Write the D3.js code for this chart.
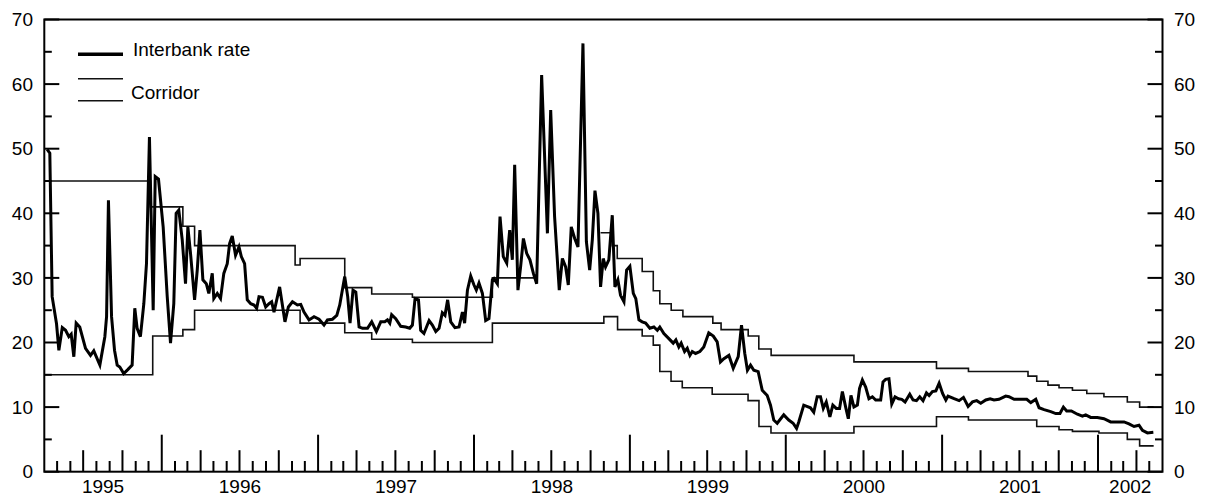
<!DOCTYPE html>
<html>
<head>
<meta charset="utf-8">
<script src="https://cdn.jsdelivr.net/npm/d3@7"></script>
<style>
  html, body { margin: 0; padding: 0; background: #fff; }
  svg { display: block; }
  text { font-family: "Liberation Sans", Arial, Helvetica, sans-serif; fill: #000; }
</style>
</head>
<body>
<svg id="chart" width="1209" height="498"></svg>
<script>
// Interbank overnight rate (per cent), dates as decimal years
const interbank = [
  [1995.265,49.9],[1995.282,49.3],[1995.297,27.1],[1995.325,22.9],[1995.340,18.8],[1995.362,22.3],
  [1995.383,21.9],[1995.404,20.9],[1995.419,21.3],[1995.436,17.8],[1995.451,23.0],[1995.474,22.4],
  [1995.511,19.1],[1995.543,18.0],[1995.564,18.7],[1995.603,16.5],[1995.635,20.9],[1995.646,24.0],
  [1995.658,42.0],[1995.678,24.0],[1995.697,18.8],[1995.714,16.5],[1995.731,16.2],[1995.756,15.2],
  [1995.782,15.8],[1995.810,16.5],[1995.827,25.3],[1995.842,22.2],[1995.863,20.9],[1995.885,26.0],
  [1995.902,32.2],[1995.921,51.8],[1995.945,25.0],[1995.958,45.7],[1995.979,45.3],[1996.009,37.9],
  [1996.035,27.1],[1996.056,19.9],[1996.077,26.0],[1996.092,40.0],[1996.109,40.5],[1996.131,35.9],
  [1996.152,29.1],[1996.167,37.9],[1996.184,33.8],[1996.210,26.6],[1996.227,31.2],[1996.244,37.4],
  [1996.263,29.7],[1996.285,29.1],[1996.301,27.6],[1996.323,30.7],[1996.333,26.8],[1996.355,27.6],
  [1996.376,26.8],[1996.397,30.7],[1996.419,32.2],[1996.434,35.3],[1996.451,36.5],[1996.472,33.5],
  [1996.494,34.8],[1996.509,33.3],[1996.530,32.2],[1996.547,26.6],[1996.569,26.0],[1996.590,25.8],
  [1996.607,25.3],[1996.622,27.1],[1996.644,27.0],[1996.665,25.5],[1996.686,26.0],[1996.703,26.3],
  [1996.718,24.7],[1996.754,28.6],[1996.788,23.2],[1996.810,25.5],[1996.836,26.3],[1996.868,25.8],
  [1996.889,25.9],[1996.910,24.7],[1996.942,23.5],[1996.974,24.0],[1997.006,23.6],[1997.038,22.7],
  [1997.060,23.5],[1997.092,23.6],[1997.120,24.2],[1997.139,25.8],[1997.171,30.2],[1997.190,27.1],
  [1997.205,23.0],[1997.224,28.1],[1997.242,27.8],[1997.263,22.4],[1997.285,22.2],[1997.317,22.2],
  [1997.344,23.2],[1997.374,21.7],[1997.402,23.2],[1997.428,23.2],[1997.445,23.5],[1997.460,23.0],
  [1997.472,24.3],[1997.498,23.7],[1997.530,22.5],[1997.562,22.4],[1997.588,22.2],[1997.605,22.7],
  [1997.622,26.8],[1997.644,26.6],[1997.658,21.9],[1997.679,21.4],[1997.712,23.4],[1997.733,22.7],
  [1997.755,21.7],[1997.776,22.2],[1997.797,24.6],[1997.814,24.2],[1997.831,26.6],[1997.851,23.2],
  [1997.878,22.3],[1997.904,22.4],[1997.926,24.7],[1997.940,23.0],[1997.958,28.1],[1997.979,30.3],
  [1998.000,28.9],[1998.015,28.1],[1998.032,29.2],[1998.054,27.6],[1998.075,23.4],[1998.096,23.7],
  [1998.118,29.7],[1998.128,29.9],[1998.150,29.1],[1998.167,39.5],[1998.188,33.3],[1998.210,32.3],
  [1998.229,37.4],[1998.246,32.8],[1998.261,47.5],[1998.282,28.1],[1998.299,31.7],[1998.317,36.1],
  [1998.338,33.8],[1998.359,32.8],[1998.381,30.7],[1998.402,29.1],[1998.434,61.4],[1998.471,36.9],
  [1998.492,56.0],[1998.517,39.5],[1998.547,28.1],[1998.567,33.0],[1998.588,31.7],[1998.605,28.9],
  [1998.624,37.9],[1998.646,36.1],[1998.667,34.8],[1998.699,66.3],[1998.721,35.6],[1998.742,31.2],
  [1998.759,35.9],[1998.776,43.5],[1998.795,40.0],[1998.812,28.6],[1998.829,33.0],[1998.844,31.7],
  [1998.865,32.8],[1998.887,39.7],[1998.904,28.6],[1998.923,29.7],[1998.940,27.3],[1998.962,26.3],
  [1998.979,31.2],[1999.000,31.8],[1999.022,27.6],[1999.038,26.8],[1999.058,23.5],[1999.079,23.2],
  [1999.101,23.0],[1999.128,22.2],[1999.154,22.4],[1999.176,21.9],[1999.192,22.4],[1999.218,21.4],
  [1999.250,20.6],[1999.278,19.9],[1999.295,20.4],[1999.314,19.3],[1999.329,19.9],[1999.351,18.6],
  [1999.368,19.1],[1999.385,18.0],[1999.400,18.6],[1999.421,18.3],[1999.449,18.6],[1999.474,19.3],
  [1999.506,21.5],[1999.535,21.0],[1999.560,20.1],[1999.581,17.0],[1999.603,17.5],[1999.635,18.0],
  [1999.663,16.0],[1999.695,17.8],[1999.716,22.7],[1999.737,18.3],[1999.754,15.7],[1999.774,16.5],
  [1999.795,15.7],[1999.823,15.5],[1999.849,12.6],[1999.881,11.8],[1999.902,10.3],[1999.923,8.0],
  [1999.945,7.5],[1999.987,8.8],[2000.019,8.0],[2000.047,7.5],[2000.069,6.7],[2000.083,7.7],
  [2000.115,10.3],[2000.158,9.9],[2000.179,9.2],[2000.201,11.6],[2000.222,11.6],[2000.240,9.8],
  [2000.259,10.8],[2000.282,8.5],[2000.301,10.3],[2000.323,9.8],[2000.344,9.8],[2000.362,12.4],
  [2000.383,10.0],[2000.400,8.2],[2000.417,11.8],[2000.436,10.0],[2000.458,10.3],[2000.472,12.9],
  [2000.490,14.2],[2000.511,13.1],[2000.532,11.3],[2000.554,11.6],[2000.575,11.1],[2000.607,11.1],
  [2000.622,13.9],[2000.639,14.3],[2000.660,14.4],[2000.678,10.5],[2000.699,11.6],[2000.721,11.3],
  [2000.742,11.2],[2000.763,10.8],[2000.793,12.0],[2000.814,11.1],[2000.836,11.0],[2000.857,11.6],
  [2000.878,11.0],[2000.900,12.2],[2000.917,11.8],[2000.938,12.4],[2000.960,12.5],[2000.981,13.7],
  [2001.003,12.1],[2001.024,11.1],[2001.038,11.7],[2001.077,11.3],[2001.109,11.0],[2001.137,11.5],
  [2001.167,10.1],[2001.195,10.8],[2001.222,11.0],[2001.248,10.6],[2001.280,11.1],[2001.308,11.3],
  [2001.333,11.1],[2001.365,11.2],[2001.408,11.7],[2001.429,11.6],[2001.462,11.2],[2001.504,11.2],
  [2001.543,11.2],[2001.569,10.7],[2001.601,11.2],[2001.622,9.9],[2001.654,9.6],[2001.697,9.3],
  [2001.729,9.0],[2001.756,9.0],[2001.778,10.0],[2001.799,9.4],[2001.829,9.4],[2001.868,8.9],
  [2001.900,8.6],[2001.921,8.8],[2001.953,8.4],[2001.996,8.4],[2002.038,8.2],[2002.081,7.7],
  [2002.124,7.7],[2002.167,7.7],[2002.199,7.4],[2002.231,7.0],[2002.263,7.2],[2002.285,6.4],
  [2002.317,6.0],[2002.355,6.1]
];

// Corridor ceiling: [date from which the rate applies, rate]; null marks a break
const corridorUpper = [
  [1995.250,45],[1995.928,41],[1996.135,38],[1996.210,35],[1996.853,32],[1996.885,33],
  [1997.171,28.5],[1997.344,27.5],[1997.605,27],[1998.118,30],[1998.385,null],
  [1998.812,37],[1998.887,35],[1998.919,33],[1999.079,31],[1999.150,28],[1999.192,26],
  [1999.265,25],[1999.340,24],[1999.532,23],[1999.585,22],[1999.759,21],[1999.827,19],
  [1999.906,18],[2000.436,17],[2000.964,16],[2001.169,15.5],[2001.551,14.8],[2001.607,14],
  [2001.679,13.4],[2001.750,13],[2001.836,12.6],[2001.928,12.1],[2002.038,11.6],
  [2002.188,10.8],[2002.267,10]
];

// Corridor floor
const corridorLower = [
  [1995.250,15],[1995.942,21],[1996.135,22],[1996.210,25],[1996.885,23],[1997.171,21.5],
  [1997.344,20.5],[1997.605,20],[1998.118,23],[1998.833,24],[1998.921,22],[1999.079,21],
  [1999.150,19.6],[1999.192,15.5],[1999.264,14],[1999.336,13],[1999.528,12],[1999.758,11],
  [1999.828,7],[1999.905,6],[2000.436,7],[2000.964,8.5],[2001.169,8],[2001.607,7],
  [2001.750,6.5],[2001.836,6.25],[2002.006,6],[2002.188,5],[2002.267,4]
];
const corridorEnd = 2002.357;

const yTicks = [0, 10, 20, 30, 40, 50, 60, 70];
const yMinorTicks = [5, 15, 25, 35, 45, 55, 65];
const years = [1995, 1996, 1997, 1998, 1999, 2000, 2001, 2002];
const legendLabels = ["Interbank rate", "Corridor"];

(function draw() {
  function toDate(t) {
    const yr = Math.floor(t);
    const a = new Date(yr, 0, 1), b = new Date(yr + 1, 0, 1);
    return new Date(+a + (t - yr) * (b - a));
  }

  const svg = d3.select("#chart");
  const plotL = 44.3, plotR = 1162.5, plotT = 19.5, plotB = 471.7;
  const startDate = new Date(1995, 3, 1), endDate = new Date(2002, 5, 1);

  const x = d3.scaleTime().domain([startDate, endDate]).range([plotL, plotR]);
  const y = d3.scaleLinear().domain([0, 70]).range([plotB, plotT]);

  // Step series -> path with horizontal runs, breaking where the value is null
  function stepPath(steps, endT) {
    const pts = [];
    for (let i = 0; i < steps.length; i++) {
      const t0 = steps[i][0];
      const t1 = i + 1 < steps.length ? steps[i + 1][0] : endT;
      const v = steps[i][1];
      pts.push({ t: t0, v: v });
      pts.push({ t: t1, v: v });
    }
    return d3.line()
      .defined(d => d.v !== null)
      .x(d => x(toDate(d.t)))
      .y(d => y(d.v))(pts);
  }

  // Corridor
  svg.append("path").attr("d", stepPath(corridorUpper, corridorEnd))
    .attr("fill", "none").attr("stroke", "#111").attr("stroke-width", 1.6);
  svg.append("path").attr("d", stepPath(corridorLower, corridorEnd))
    .attr("fill", "none").attr("stroke", "#111").attr("stroke-width", 1.6);

  // Interbank rate
  const line = d3.line().x(d => x(toDate(d[0]))).y(d => y(d[1]));
  svg.append("path").datum(interbank).attr("d", line)
    .attr("fill", "none").attr("stroke", "#000").attr("stroke-width", 3)
    .attr("stroke-linejoin", "miter").attr("stroke-miterlimit", 4);

  // Frame
  svg.append("rect").attr("x", plotL).attr("y", plotT)
    .attr("width", plotR - plotL).attr("height", plotB - plotT)
    .attr("fill", "none").attr("stroke", "#000").attr("stroke-width", 2);

  // Y ticks on both sides, pointing inward
  const tickG = svg.append("g").attr("stroke", "#000").attr("stroke-width", 2);
  yTicks.concat(yMinorTicks).forEach(v => {
    const len = yTicks.includes(v) ? 15 : 7.5;
    tickG.append("line").attr("x1", plotL).attr("x2", plotL + len).attr("y1", y(v)).attr("y2", y(v));
    tickG.append("line").attr("x1", plotR).attr("x2", plotR - len).attr("y1", y(v)).attr("y2", y(v));
  });

  yTicks.forEach(v => {
    svg.append("text").attr("x", 33).attr("y", y(v) + 6.6)
      .attr("text-anchor", "end").attr("font-size", 19).text(v);
    svg.append("text").attr("x", 1174).attr("y", y(v) + 6.6)
      .attr("text-anchor", "start").attr("font-size", 19).text(v);
  });

  // Monthly ticks on the time axis: January long, quarters medium, others short
  d3.timeMonth.range(d3.timeMonth.offset(startDate, 1), endDate).forEach(d => {
    const m = d.getMonth();
    const len = m === 0 ? 37 : (m % 3 === 0 ? 21.5 : 10.7);
    tickG.append("line").attr("x1", x(d)).attr("x2", x(d)).attr("y1", plotB).attr("y2", plotB - len);
  });

  // Year labels centred on the visible part of each year
  years.forEach(yr => {
    const a = Math.max(+new Date(yr, 0, 1), +startDate);
    const b = Math.min(+new Date(yr + 1, 0, 1), +endDate);
    svg.append("text").attr("x", (x(new Date(a)) + x(new Date(b))) / 2).attr("y", 493)
      .attr("text-anchor", "middle").attr("font-size", 19).text(yr);
  });

  // Legend
  const lg = svg.append("g");
  lg.append("line").attr("x1", 78).attr("x2", 123).attr("y1", 54.3).attr("y2", 54.3)
    .attr("stroke", "#000").attr("stroke-width", 3.5);
  lg.append("text").attr("x", 133).attr("y", 56).attr("font-size", 19).text(legendLabels[0]);
  [78.7, 100.7].forEach(yy => {
    lg.append("line").attr("x1", 78).attr("x2", 123).attr("y1", yy).attr("y2", yy)
      .attr("stroke", "#111").attr("stroke-width", 1.6);
  });
  lg.append("text").attr("x", 131).attr("y", 99).attr("font-size", 19).text(legendLabels[1]);
})();
</script>
</body>
</html>
